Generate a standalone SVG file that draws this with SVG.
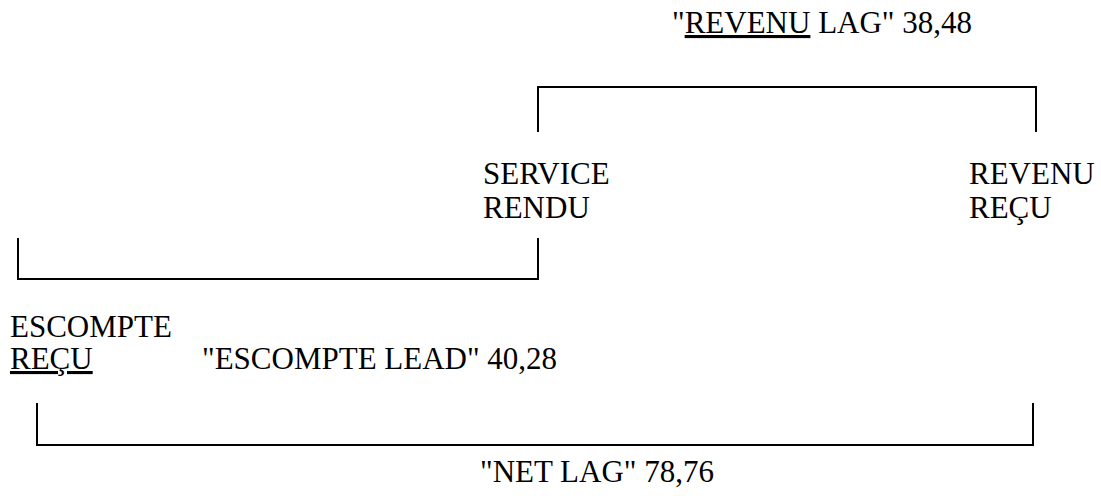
<svg xmlns="http://www.w3.org/2000/svg" width="1101" height="496" viewBox="0 0 1101 496">
  <style>
    text { font-family: 'Liberation Serif', 'Times New Roman', serif; font-size: 31px; fill: #000; }
    .u { text-decoration: underline; }
    .c { fill: none; stroke: #000; stroke-width: 2; }
  </style>
  <rect width="1101" height="496" fill="#fff"/>

  <!-- interval brackets: revenue lag (top), discount lead (left), net lag (bottom) -->
  <g id="connectors">
    <polyline class="c" points="538,132 538,87 1036,87 1036,132"/>
    <polyline class="c" points="18,238 18,279 538,279 538,238"/>
    <polyline class="c" points="37,403 37,445 1033,445 1033,403"/>
  </g>

  <g id="revenu-lag">
    <text x="672" y="33">"<tspan class="u">REVENU</tspan> LAG" 38,48</text>
  </g>
  <g id="service-rendu">
    <text x="483" y="184">SERVICE</text>
    <text x="483" y="218">RENDU</text>
  </g>
  <g id="revenu-recu">
    <text x="969" y="184">REVENU</text>
    <text x="969" y="218">REÇU</text>
  </g>
  <g id="escompte-recu">
    <text x="10" y="337">ESCOMPTE</text>
    <text class="u" x="10" y="369">REÇU</text>
  </g>
  <g id="escompte-lead">
    <text x="202" y="369">"ESCOMPTE LEAD" 40,28</text>
  </g>
  <g id="net-lag">
    <text x="480" y="482">"NET LAG" 78,76</text>
  </g>
</svg>
